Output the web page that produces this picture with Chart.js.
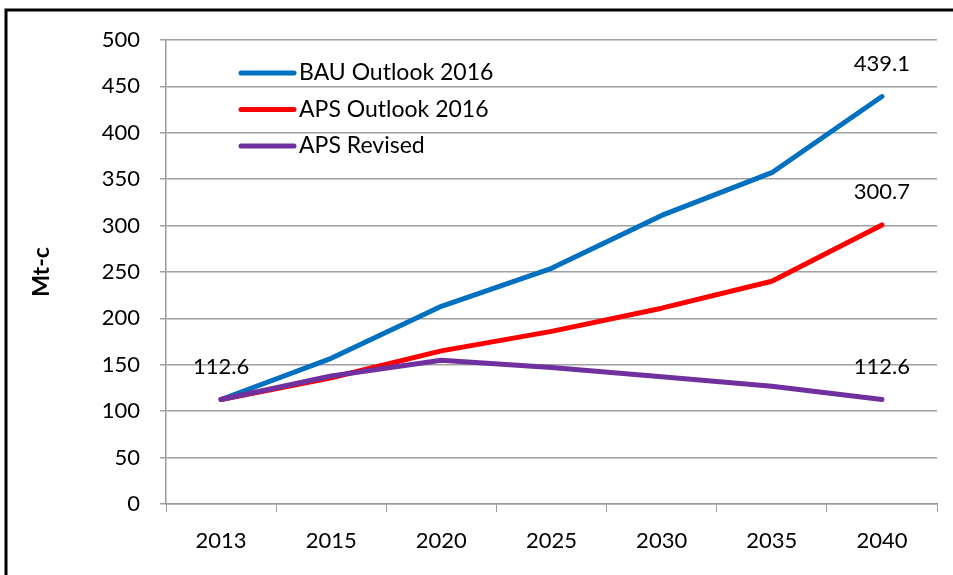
<!DOCTYPE html>
<html>
<head>
<meta charset="utf-8">
<script src="https://cdn.jsdelivr.net/npm/chart.js@4.4.1/dist/chart.umd.min.js"></script>
<style>
  html, body { margin: 0; padding: 0; background: #fff; }
  #wrap { width: 953px; height: 575px; position: relative; }
</style>
</head>
<body>
<div id="wrap"><canvas id="chart"></canvas></div>
<script>
var years = ['2013', '2015', '2020', '2025', '2030', '2035', '2040'];
var bauOutlook = [112.6, 157, 213, 254, 311, 357, 439.1];
var apsOutlook = [112.6, 136, 165, 186, 211, 240, 300.7];
var apsRevised = [112.6, 138, 155, 147, 137, 127, 112.6];
var yTicks = [0, 50, 100, 150, 200, 250, 300, 350, 400, 450, 500];

// [dataset index, point index] of the values printed on the chart
var labelled = [[0, 0], [0, 6], [1, 6], [2, 6]];

var FONT = 'Lato, "Liberation Sans", sans-serif';

function lineSet(label, data, color, order) {
    return {
        label: label,
        data: data,
        borderColor: color,
        backgroundColor: color,
        borderWidth: 5,
        pointRadius: 0,
        pointHoverRadius: 0,
        tension: 0,
        borderCapStyle: 'round',
        borderJoinStyle: 'round',
        order: order
    };
}

var extras = {
    id: 'extras',
    afterDraw: function(chart) {
        var ctx = chart.ctx;
        ctx.save();

        // frame lines
        ctx.strokeStyle = '#000';
        ctx.lineWidth = 3;
        ctx.beginPath();
        ctx.moveTo(6, 575);
        ctx.lineTo(6, 10);
        ctx.lineTo(953, 10);
        ctx.stroke();

        // value labels
        ctx.fillStyle = '#000';
        ctx.font = '22px ' + FONT;
        ctx.textAlign = 'center';
        ctx.textBaseline = 'middle';
        labelled.forEach(function(p) {
            var ds = chart.data.datasets[p[0]];
            var pt = chart.getDatasetMeta(p[0]).data[p[1]];
            ctx.fillText(ds.data[p[1]].toFixed(1), pt.x, pt.y - 33);
        });

        // legend inside the plot
        ctx.font = '23px ' + FONT;
        ctx.textAlign = 'left';
        ctx.lineCap = 'round';
        ctx.lineWidth = 5;
        chart.data.datasets.forEach(function(ds, i) {
            var y = 73 + i * 36.5;
            ctx.strokeStyle = ds.borderColor;
            ctx.beginPath();
            ctx.moveTo(241, y);
            ctx.lineTo(294, y);
            ctx.stroke();
            ctx.fillText(ds.label, 299, y);
        });
        ctx.restore();
    }
};

var ctx = document.getElementById('chart').getContext('2d');
var myChart = new Chart(ctx, {
    type: 'line',
    data: {
        labels: years,
        datasets: [
            lineSet('BAU Outlook 2016', bauOutlook, '#0070C0', 2),
            lineSet('APS Outlook 2016', apsOutlook, '#FF0000', 1),
            lineSet('APS Revised', apsRevised, '#7030A0', 0)
        ]
    },
    options: {
        responsive: true,
        maintainAspectRatio: false,
        animation: false,
        layout: { padding: { left: 0, top: 40, right: 16, bottom: 0 } },
        plugins: {
            legend: { display: false },
            tooltip: { enabled: false }
        },
        scales: {
            x: {
                offset: true,
                afterFit: function(scale) { scale.height = 71; },
                grid: {
                    offset: true,
                    drawOnChartArea: false,
                    drawTicks: true,
                    tickLength: 8,
                    color: '#999'
                },
                border: { color: '#999', width: 1.5 },
                ticks: {
                    color: '#000',
                    padding: 16,
                    maxRotation: 0,
                    font: { family: FONT, size: 22 }
                }
            },
            y: {
                min: 0,
                max: 500,
                afterFit: function(scale) { scale.width = 166; },
                afterBuildTicks: function(scale) {
                    scale.ticks = yTicks.map(function(v) { return { value: v }; });
                },
                grid: {
                    color: '#a0a0a0',
                    lineWidth: 1.5,
                    tickLength: 6
                },
                border: { color: '#999', width: 1.5 },
                ticks: {
                    color: '#000',
                    padding: 20,
                    font: { family: FONT, size: 22 }
                },
                title: {
                    display: true,
                    text: 'Mt-c',
                    color: '#000',
                    padding: { top: 28, bottom: 0 },
                    font: { family: FONT, size: 23, weight: 'bold' }
                }
            }
        }
    },
    plugins: [extras]
});
</script>
</body>
</html>
